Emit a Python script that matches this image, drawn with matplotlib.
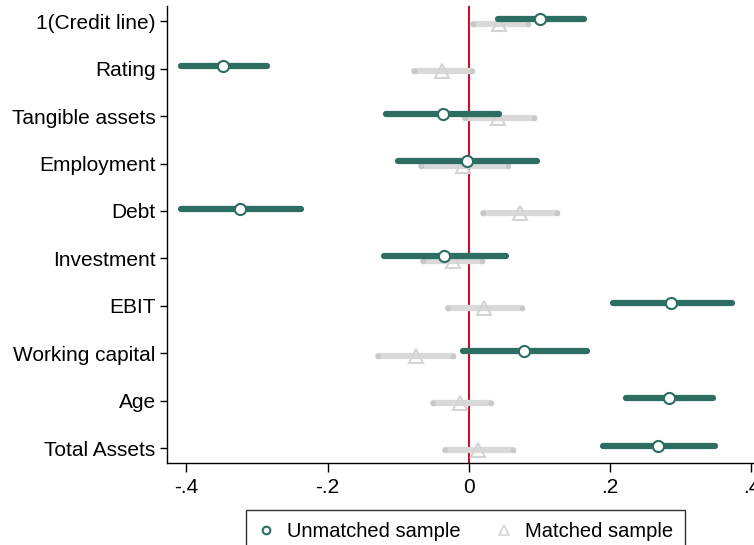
import matplotlib.pyplot as plt
from matplotlib.lines import Line2D

plt.rcParams['font.family'] = ['Liberation Sans', 'DejaVu Sans']

labels = ['1(Credit line)', 'Rating', 'Tangible assets', 'Employment', 'Debt',
          'Investment', 'EBIT', 'Working capital', 'Age', 'Total Assets']

# unmatched sample: point estimate and CI bounds
unm_est = [0.101, -0.348, -0.037, -0.002, -0.324, -0.035, 0.286, 0.078, 0.283, 0.268]
unm_lo = [0.041, -0.408, -0.117, -0.100, -0.407, -0.120, 0.204, -0.008, 0.223, 0.190]
unm_hi = [0.163, -0.286, 0.043, 0.097, -0.238, 0.053, 0.372, 0.168, 0.345, 0.349]

# matched sample
mat_est = [0.043, -0.038, 0.042, -0.008, 0.073, -0.023, 0.022, -0.075, -0.012, 0.013]
mat_lo = [0.006, -0.078, -0.006, -0.067, 0.020, -0.065, -0.030, -0.128, -0.050, -0.034]
mat_hi = [0.084, 0.005, 0.092, 0.055, 0.125, 0.019, 0.075, -0.022, 0.031, 0.063]

green = '#2d6d62'
grey = '#d9d9d9'

fig = plt.figure(figsize=(7.54, 5.45), dpi=100)
ax = fig.add_axes([0.2211, 0.1499, 0.8035, 0.839])

ypos = list(range(1, len(labels) + 1))
off = 0.05

ax.axvline(0, color='#c8102e', lw=1.5, zorder=1)

for i, y in enumerate(ypos):
    # matched (grey) slightly below
    ax.plot([mat_lo[i], mat_hi[i]], [y + off, y + off], color=grey, lw=4.5,
            solid_capstyle='round', zorder=2)
    ax.plot([mat_lo[i], mat_hi[i]], [y + off, y + off], 'o', color='#c8c8c8',
            ms=4, mec='none', zorder=2)
    ax.plot(mat_est[i], y + off, '^', mfc='none', mec='#d4d4d4', mew=1.5,
            ms=10, zorder=3)
    # unmatched (green) slightly above
    ax.plot([unm_lo[i], unm_hi[i]], [y - off, y - off], color=green, lw=4.5,
            solid_capstyle='round', zorder=4)
    ax.plot(unm_est[i], y - off, 'o', mfc='white', mec=green, mew=1.5,
            ms=8, zorder=5)

ax.set_xlim(-0.4277, 0.43)
ax.set_ylim(10.32, 0.68)
ax.set_yticks(ypos)
ax.set_yticklabels(labels)
ax.set_xticks([-0.4, -0.2, 0, 0.2, 0.4])
ax.set_xticklabels(['-.4', '-.2', '0', '.2', '.4'])
ax.tick_params(axis='both', labelsize=15, direction='out', width=1, color='black')
ax.tick_params(axis='y', length=5, pad=3)
ax.tick_params(axis='x', length=6.5, pad=4)
ax.spines['top'].set_visible(False)
ax.spines['right'].set_visible(False)
for s in ['left', 'bottom']:
    ax.spines[s].set_linewidth(1)
    ax.spines[s].set_color('black')

handles = [Line2D([], [], ls='none', marker='o', mfc='white', mec=green, mew=1.5, ms=5.5),
           Line2D([], [], ls='none', marker='^', mfc='none', mec='#d4d4d4', mew=1.2, ms=7.5)]
leg = fig.legend(handles, ['Unmatched sample', 'Matched sample'], loc='upper center',
                 bbox_to_anchor=(465.5 / 754, 1 - 510 / 545), ncol=2, fontsize=14.5,
                 frameon=True, fancybox=False, edgecolor='black', handlelength=0.8,
                 handletextpad=0.6, columnspacing=1.8, borderpad=0.6,
                 borderaxespad=0)
leg.get_frame().set_linewidth(1)

fig.savefig('out.png', dpi=100)
